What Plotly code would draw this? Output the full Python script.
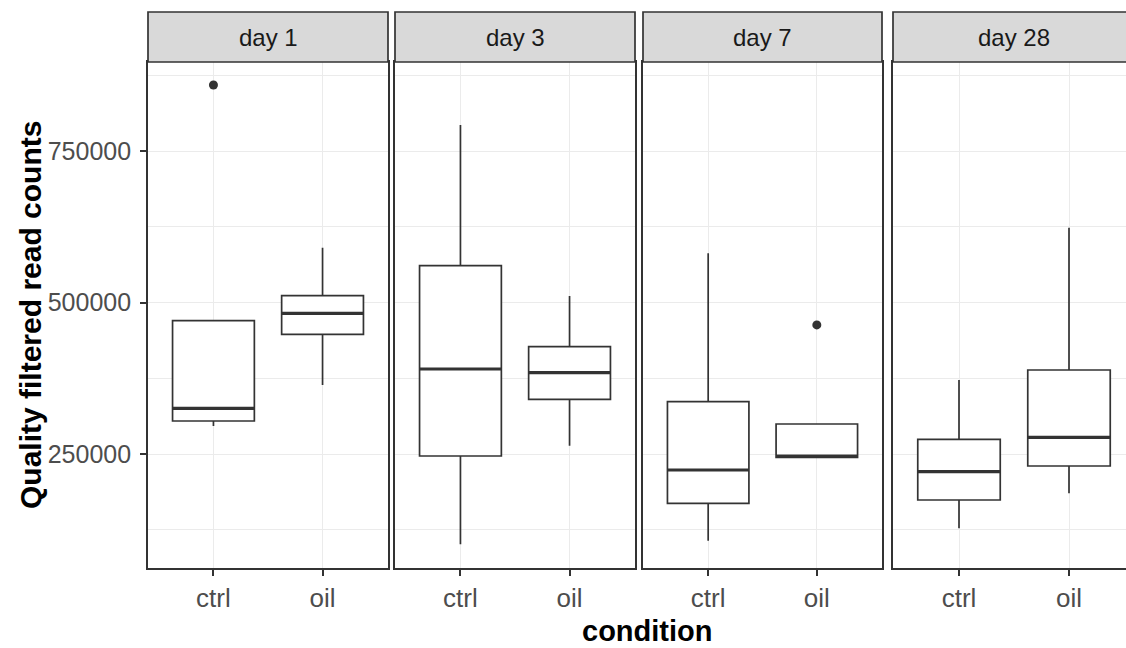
import plotly.graph_objects as go

# ---- data -------------------------------------------------------------
days = ["day 1", "day 3", "day 7", "day 28"]
conditions = ["ctrl", "oil"]

# box statistics per day: [ctrl, oil]
q1 = {
    "day 1": [304500, 447500],
    "day 3": [246700, 340300],
    "day 7": [168700, 244600],
    "day 28": [174100, 230200],
}
median = {
    "day 1": [325400, 482200],
    "day 3": [390300, 384200],
    "day 7": [223600, 246700],
    "day 28": [220800, 277600],
}
q3 = {
    "day 1": [470000, 511300],
    "day 3": [560800, 427100],
    "day 7": [336400, 299500],
    "day 28": [274300, 388600],
}
lower_whisker = {
    "day 1": [296200, 363900],
    "day 3": [101000, 263700],
    "day 7": [107000, 244600],
    "day 28": [127400, 185200],
}
upper_whisker = {
    "day 1": [470000, 590500],
    "day 3": [792900, 510600],
    "day 7": [581200, 299500],
    "day 28": [372100, 623500],
}
# outlying points: (day, condition, value)
outlier_day = ["day 1", "day 7"]
outlier_cond = ["ctrl", "oil"]
outlier_value = [859000, 463000]

y_tickvals = [250000, 500000, 750000]
y_ticktext = ["250000", "500000", "750000"]
y_minor_vals = [125000, 375000, 625000, 875000]
y_range = [61900, 896900]

# ---- layout geometry (pixels) ----------------------------------------
W, H = 1126, 648
M_L, M_R, M_T, M_B = 148, 0, 62, 80
PW, PH = W - M_L - M_R, H - M_T - M_B
panel_px = [(148, 388), (395, 635), (643, 882), (893, 1135)]
strip_h = 50

INK = "#333333"
GRID = "#ebebeb"
TICK_COL = "#4d4d4d"
FONT = "Liberation Sans, Arial, sans-serif"
BOX_W = 0.75

fig = go.Figure()
layout = dict(
    width=W, height=H,
    margin=dict(l=M_L, r=M_R, t=M_T, b=M_B, pad=0),
    paper_bgcolor="white", plot_bgcolor="white",
    showlegend=False,
    font=dict(family=FONT, color=TICK_COL),
    shapes=[], annotations=[],
)

def px_to_paper_x(px):
    return (px - M_L) / PW

for i, day in enumerate(days):
    n = "" if i == 0 else str(i + 1)
    xa, ya = "x" + n, "y" + n
    x0p, x1p = panel_px[i]
    unit = (x1p - x0p) / 2.2
    vis_right = min(x1p, W - M_R)
    xr = [0.4, 0.4 + (vis_right - x0p) / unit]
    dom = [px_to_paper_x(x0p), px_to_paper_x(vis_right)]

    for j, cond in enumerate(conditions):
        xpos = j + 1
        fig.add_trace(go.Box(
            x=[xpos], q1=[q1[day][j]], median=[median[day][j]], q3=[q3[day][j]],
            lowerfence=[lower_whisker[day][j]], upperfence=[upper_whisker[day][j]],
            width=BOX_W, whiskerwidth=0, boxpoints=False,
            fillcolor="white", line=dict(color=INK, width=1.7),
            xaxis=xa, yaxis=ya, hoverinfo="skip",
        ))
        # heavier median bar
        fig.add_trace(go.Scatter(
            x=[xpos - BOX_W / 2, xpos + BOX_W / 2],
            y=[median[day][j], median[day][j]],
            mode="lines", line=dict(color=INK, width=3.2),
            xaxis=xa, yaxis=ya, hoverinfo="skip",
        ))

    ox = [conditions.index(c) + 1 for d, c in zip(outlier_day, outlier_cond) if d == day]
    oy = [v for d, v in zip(outlier_day, outlier_value) if d == day]
    if ox:
        fig.add_trace(go.Scatter(
            x=ox, y=oy, mode="markers",
            marker=dict(color=INK, size=9),
            xaxis=xa, yaxis=ya, hoverinfo="skip",
        ))

    layout["xaxis" + n] = dict(
        domain=dom, range=xr, anchor=ya,
        tickvals=[1, 2], ticktext=conditions,
        ticks="outside", ticklen=6, tickwidth=1.5, tickcolor=INK,
        tickfont=dict(size=26, color=TICK_COL),
        showgrid=True, gridcolor=GRID, gridwidth=1.2,
        showline=True, linecolor=INK, linewidth=1.7, mirror=True,
        zeroline=False, fixedrange=True,
    )
    layout["yaxis" + n] = dict(
        domain=[0, 1], range=y_range, anchor=xa,
        tickvals=y_tickvals, ticktext=y_ticktext,
        ticks="outside" if i == 0 else "", ticklen=6, tickwidth=1.5, tickcolor=INK,
        showticklabels=(i == 0), ticklabelstandoff=4,
        tickfont=dict(size=25, color=TICK_COL),
        showgrid=True, gridcolor=GRID, gridwidth=1.2,
        minor=dict(tickvals=y_minor_vals, showgrid=True, gridcolor=GRID, gridwidth=1.0),
        showline=True, linecolor=INK, linewidth=1.7, mirror=(i < 3),
        zeroline=False, fixedrange=True,
    )

    # facet strip
    layout["shapes"].append(dict(
        type="rect", xref="paper", yref="paper",
        x0=px_to_paper_x(x0p), x1=px_to_paper_x(x1p),
        y0=1, y1=1 + strip_h / PH,
        fillcolor="#d9d9d9", line=dict(color=INK, width=1.7), layer="above",
    ))
    layout["annotations"].append(dict(
        text=day, xref="paper", yref="paper",
        x=px_to_paper_x((x0p + x1p) / 2),
        y=1 + strip_h / 2 / PH, xanchor="center", yanchor="middle",
        showarrow=False, font=dict(size=24, color="#1a1a1a", family=FONT),
    ))

layout["annotations"].append(dict(
    text="Quality filtered read counts", xref="paper", yref="paper",
    x=px_to_paper_x(30), y=(M_T + PH - 315) / PH, textangle=-90,
    xanchor="center", yanchor="middle", showarrow=False,
    font=dict(size=30, color="black", family=FONT, weight="bold"),
))
layout["annotations"].append(dict(
    text="condition", xref="paper", yref="paper",
    x=px_to_paper_x(647), y=(M_T + PH - 631) / PH,
    xanchor="center", yanchor="middle", showarrow=False,
    font=dict(size=29, color="black", family=FONT, weight="bold"),
))

fig.update_layout(**layout)
fig.write_html("out.html")
